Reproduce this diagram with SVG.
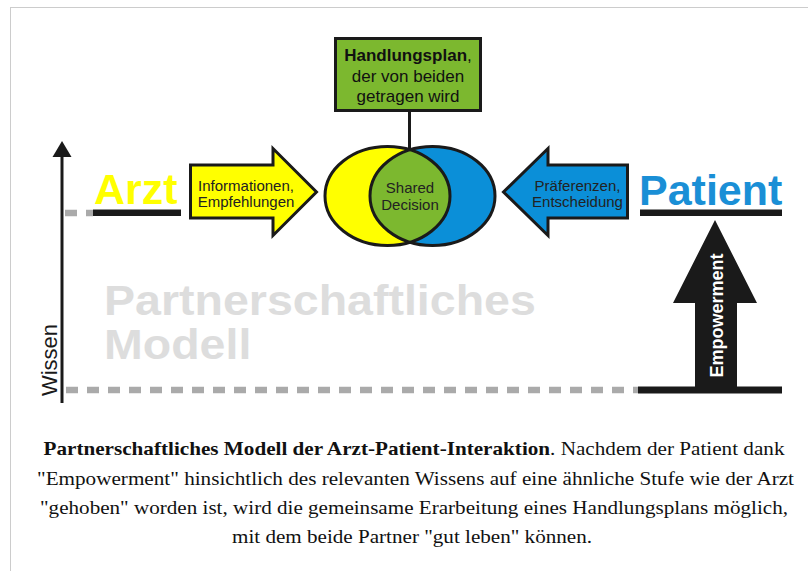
<svg xmlns="http://www.w3.org/2000/svg" width="808" height="571" viewBox="0 0 808 571">
<style>
.ol{stroke:#1a1a1a;stroke-width:3;stroke-linejoin:miter}
.sans{font-family:"Liberation Sans",Arial,sans-serif}
.lbl{font-family:"Liberation Sans",Arial,sans-serif;font-size:15px;fill:#222;text-anchor:middle}
.cap{font-family:"Liberation Serif","Times New Roman",serif;font-size:19px;fill:#111;text-anchor:middle}
.dash{stroke:#aaaaaa;stroke-width:6.5;stroke-dasharray:12 9;fill:none}
.bar{fill:#1a1a1a}
</style>
<defs>
<clipPath id="clipY"><ellipse cx="387.5" cy="196" rx="62.5" ry="49.5"/></clipPath>
</defs>
<rect x="0" y="0" width="808" height="571" fill="#ffffff"/>
<rect x="10.5" y="7.5" width="820" height="600" fill="none" stroke="#cccccc" stroke-width="1"/>

<g id="axis">
<line x1="62" y1="154" x2="62" y2="403" stroke="#1a1a1a" stroke-width="3"/>
<polygon points="62,141 71.5,157 52.5,157" fill="#1a1a1a"/>
<text class="sans" transform="translate(57,360) rotate(-90)" font-size="22" fill="#1a1a1a" text-anchor="middle">Wissen</text>
</g>

<g id="watermark">
<text class="sans" transform="translate(104,0) scale(1.108,1)" font-size="42" font-weight="bold" fill="#dddddd"><tspan x="0" y="315">Partnerschaftliches</tspan><tspan x="0" y="359">Modell</tspan></text>
</g>

<g id="levels">
<line class="dash" x1="65" y1="213" x2="93" y2="213"/>
<line class="dash" x1="66" y1="390" x2="638" y2="390"/>
</g>

<g id="arzt">
<text class="sans" x="94" y="204" font-size="43" font-weight="bold" fill="#ffff00">Arzt</text>
<rect class="bar" x="93" y="209.5" width="88" height="6.5"/>
</g>

<g id="patient">
<text class="sans" x="639" y="205" font-size="43" font-weight="bold" fill="#1a8fd6">Patient</text>
<rect class="bar" x="640" y="209.5" width="142" height="6.5"/>
</g>

<g id="arrow-info">
<path class="ol" fill="#ffff00" d="M190.5,165 H273 V148.5 L316.5,192 L273,235.5 V218 H190.5 Z"/>
<text class="lbl" x="246" y="191">Informationen,</text>
<text class="lbl" x="246" y="207">Empfehlungen</text>
</g>

<g id="arrow-pref">
<path class="ol" fill="#0b8fd8" d="M627.5,165 H548 V148.5 L503.5,192 L548,235.5 V218 H627.5 Z"/>
<text class="lbl" x="577.5" y="191" fill="#1a2233">Präferenzen,</text>
<text class="lbl" x="577.5" y="207" fill="#1a2233">Entscheidung</text>
</g>

<g id="connectors">
<line x1="409.5" y1="110" x2="409.5" y2="159" stroke="#1a1a1a" stroke-width="3"/>
</g>

<g id="shared-decision">
<ellipse cx="387.5" cy="196" rx="62.5" ry="49.5" fill="#ffff00"/>
<ellipse cx="432.5" cy="196" rx="62.5" ry="49.5" fill="#0b8fd8"/>
<ellipse cx="432.5" cy="196" rx="62.5" ry="49.5" fill="#7cb82f" clip-path="url(#clipY)"/>
<ellipse class="ol" cx="387.5" cy="196" rx="62.5" ry="49.5" fill="none"/>
<ellipse class="ol" cx="432.5" cy="196" rx="62.5" ry="49.5" fill="none"/>
<text class="sans" x="410" y="193" font-size="15" fill="#222" text-anchor="middle">Shared</text>
<text class="sans" x="410" y="210" font-size="15" fill="#222" text-anchor="middle">Decision</text>
</g>

<g id="handlungsplan">
<rect class="ol" x="335.5" y="38.5" width="145" height="72" fill="#7cb82f"/>
<text class="sans" x="408" y="61" font-size="17" fill="#111" text-anchor="middle"><tspan font-weight="bold">Handlungsplan</tspan>,</text>
<text class="sans" x="408" y="81.5" font-size="17" fill="#111" text-anchor="middle">der von beiden</text>
<text class="sans" x="408" y="102" font-size="17" fill="#111" text-anchor="middle">getragen wird</text>
</g>

<g id="empowerment">
<polygon points="715,220 757,303 737,303 737,388 695,388 695,303 673,303" fill="#1a1a1a"/>
<rect class="bar" x="638" y="386.5" width="144" height="7"/>
<text class="sans" transform="translate(723,315.5) rotate(-90)" font-size="18" font-weight="bold" fill="#ffffff" text-anchor="middle">Empowerment</text>
</g>

<g id="caption">
<text class="cap" x="414" y="455" textLength="741" lengthAdjust="spacingAndGlyphs"><tspan font-weight="bold">Partnerschaftliches Modell der Arzt-Patient-Interaktion</tspan>. Nachdem der Patient dank</text>
<text class="cap" x="415.5" y="485" textLength="757" lengthAdjust="spacingAndGlyphs">"Empowerment" hinsichtlich des relevanten Wissens auf eine ähnliche Stufe wie der Arzt</text>
<text class="cap" x="414" y="514" textLength="748" lengthAdjust="spacingAndGlyphs">"gehoben" worden ist, wird die gemeinsame Erarbeitung eines Handlungsplans möglich,</text>
<text class="cap" x="412" y="543" textLength="360" lengthAdjust="spacingAndGlyphs">mit dem beide Partner "gut leben" können.</text>
</g>
</svg>
